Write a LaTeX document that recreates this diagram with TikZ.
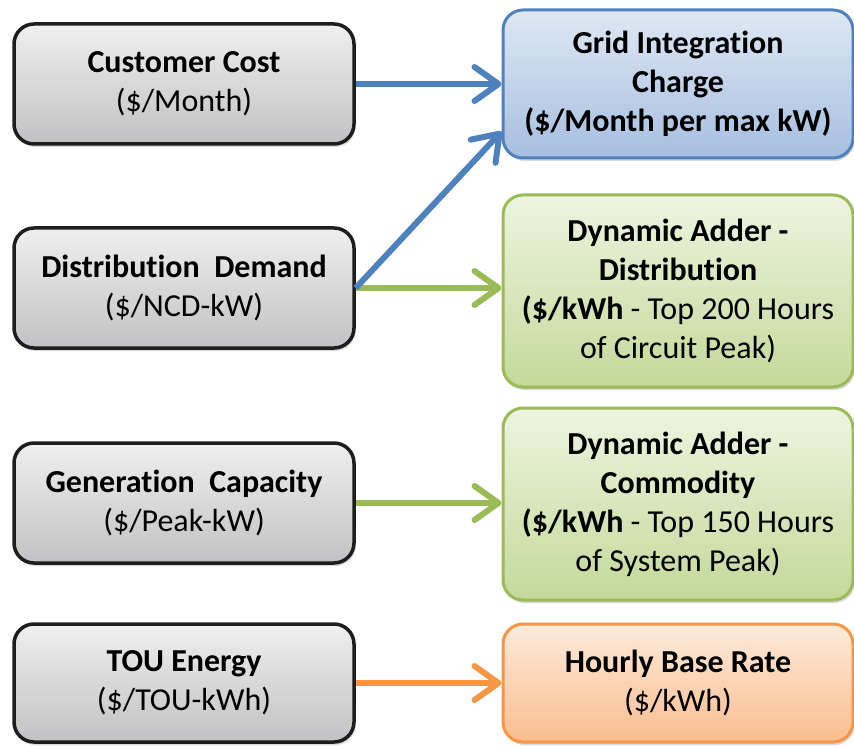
\documentclass[tikz,border=0pt]{standalone}
\usepackage{fontspec}
\setmainfont{Carlito}[Ligatures=NoCommon]
\usetikzlibrary{arrows.meta,shadows}

\definecolor{costline}{HTML}{1E1E1E}
\definecolor{costtop}{HTML}{EFEFEF}
\definecolor{costbot}{HTML}{C2C2C4}
\definecolor{gicline}{HTML}{4F81BD}
\definecolor{gictop}{HTML}{DEE8F4}
\definecolor{gicbot}{HTML}{A6BEE0}
\definecolor{addline}{HTML}{9BBB59}
\definecolor{addtop}{HTML}{EEF4E0}
\definecolor{addbot}{HTML}{C4D99A}
\definecolor{baseline}{HTML}{F79646}
\definecolor{basetop}{HTML}{FDEBDC}
\definecolor{basebot}{HTML}{F9BD8E}

\begin{document}
\begin{tikzpicture}[x=1pt, y=-1pt,
  % Box styles
  box/.style={rectangle, rounded corners=20pt, line width=3pt, align=center,
    font=\fontsize{32}{39}\selectfont, inner sep=4pt,
    drop shadow={opacity=0.3, shadow xshift=1.5pt, shadow yshift=-3pt}},
  cost/.style={box, draw=costline, line width=3.5pt, top color=costtop,
    bottom color=costbot, minimum width=340pt, minimum height=120pt},
  gic/.style={box, draw=gicline, top color=gictop, bottom color=gicbot,
    minimum width=350pt},
  adder/.style={box, draw=addline, top color=addtop, bottom color=addbot,
    minimum width=350pt, minimum height=192pt},
  hourly/.style={box, draw=baseline, top color=basetop, bottom color=basebot,
    minimum width=350pt, minimum height=118pt},
  % Arrow style
  flow/.style={-{Straight Barb[round, length=24pt, width=34pt]}, line width=6pt},
]

% Horizontal positions
\def\leftx{184}
\def\rightx{678}

% Plain background fixes the margins
\useasboundingbox (0,0) rectangle (854,746);

% --- Row 1: customer cost ---
\node[cost] (cc) at (\leftx, 84)
  {\textbf{Customer Cost}\\(\$/Month)};
\node[gic, minimum height=148pt] (gic) at (\rightx, 84)
  {\textbf{Grid Integration}\\\textbf{Charge}\\\textbf{(\$/Month per max kW)}};

% --- Row 2: distribution demand ---
\node[cost] (dd) at (\leftx, 288)
  {\textbf{Distribution\ \ Demand}\\(\$/NCD-kW)};
\node[adder] (dad) at (\rightx, 291)
  {\textbf{Dynamic Adder -}\\\textbf{Distribution}\\\textbf{(\$/kWh} - Top 200 Hours\\of Circuit Peak)};

% --- Row 3: generation capacity ---
\node[cost] (gc) at (\leftx, 503)
  {\textbf{Generation\ \ Capacity}\\(\$/Peak-kW)};
\node[adder] (dac) at (\rightx, 504)
  {\textbf{Dynamic Adder -}\\\textbf{Commodity}\\\textbf{(\$/kWh} - Top 150 Hours\\of System Peak)};

% --- Row 4: TOU energy ---
\node[cost, minimum height=118pt] (tou) at (\leftx, 683)
  {\textbf{TOU Energy}\\(\$/TOU-kWh)};
\node[hourly] (hbr) at (\rightx, 683)
  {\textbf{Hourly Base Rate}\\(\$/kWh)};

% Arrows
\draw[flow, draw=gicline] (cc.east) -- (gic.west);
\draw[flow, draw=addline] (dd.east) -- (dd.east -| dad.west);
\draw[flow, draw=gicline] (dd.east) -- ([yshift=28pt]gic.south west);
\draw[flow, draw=addline] (gc.east) -- (gc.east -| dac.west);
\draw[flow, draw=baseline] (tou.east) -- (hbr.west);

\end{tikzpicture}
\end{document}
